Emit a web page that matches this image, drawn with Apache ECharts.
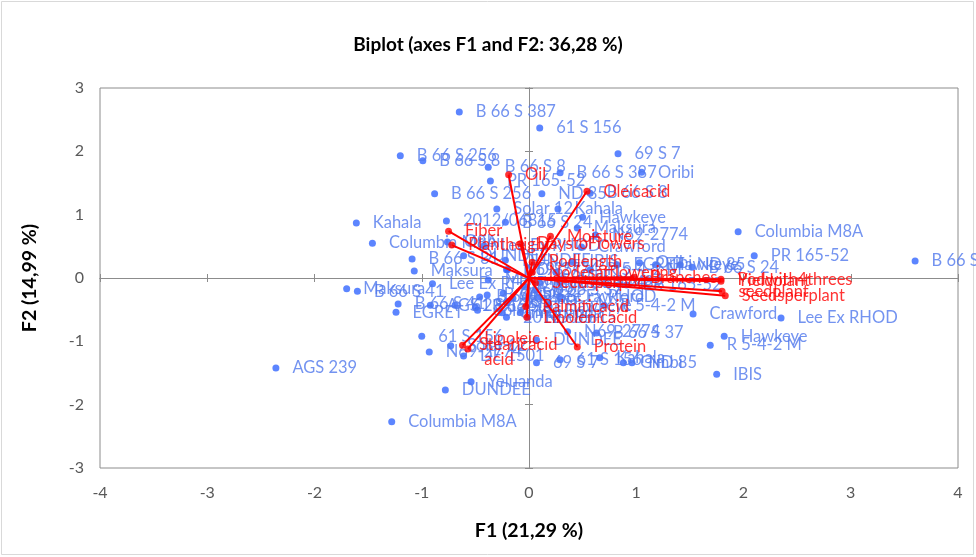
<!DOCTYPE html>
<html>
<head>
<meta charset="utf-8">
<script src="https://cdn.jsdelivr.net/npm/echarts@6.0.0/dist/echarts.min.js"></script>
<style>
  html, body { margin: 0; padding: 0; background: #fff; }
  #chart { width: 976px; height: 557px; }
</style>
</head>
<body>
<div id="chart"></div>
<script>
// observations (F1, F2 scores)
const obsNames = [
  'B 66 S 387', '61 S 156', 'B 66 S 256', 'B 66 S 8', 'B 66 S 8', 'B 66 S 387', 'PR 165-52', 'B 66 S 256',
  'ND 85', 'Solar 12', 'Kahala', 'Hawkeye', 'Kahala', '2012/06815', 'B 66 S 24', 'Maksura',
  '69 S 7', 'Oribi', 'B 66 S 8', 'N69-2774', 'Crawford', 'Columbia M8A', 'PR 165-52', 'B 66 S 31',
  'B 66 S 24', 'EGRET', 'Hawkeye', 'Columbia M8A', 'Oribi', 'B 66 S 31', 'DUNDEE', 'Maksura',
  'ND 85', 'Maksura', 'B 66 S 41', 'Lee Ex RHOD', 'B 66 S 41', 'EGRET', 'AGS 239', '61 S 156',
  'N69-2774', 'Solar 12', 'DE 1501', 'AGS 239', 'Yeluanda', 'DUNDEE', 'Columbia M8A', '69 S 7',
  'DUNDEE', 'N69-2774', 'B 66 S 37', '61 S 156', 'Kahala', 'Gimbi', 'ND 85', 'Crawford',
  'R 5-4-2 M', 'Hawkeye', 'IBIS', 'Lee Ex RHOD', 'R 5-4-2 M', 'PR 165-52', 'B 66 S 256', 'B 66 S 8',
  'Oribi', 'IBIS', 'Solar 12', 'Gimbi', '2012/06815', 'Yeluanda', 'ND 85', 'Kahala',
  'Lee Ex RHOD', 'Hawkeye', 'N69-2774', 'Maksura', 'Oribi', 'Columbia M8A', 'B 66 S 37', 'Crawford',
  'Oribi', 'ND 85', 'IBIS', 'Solar 12', '61 S 156', 'B 66 S 31', 'B 66 S 24', 'R 5-4-2 M',
  'Lee Ex RHOD', 'DUNDEE'
]
const obsF1 = [
  -0.65, 0.10, -1.20, -0.99, -0.38, 0.29, -0.36, -0.88,
  0.12, -0.30, 0.27, 0.50, -1.61, -0.77, -0.22, 0.45,
  0.83, 1.05, 0.57, 0.62, 0.49, 1.95, 2.10, 3.60,
  1.52, 0.82, 1.18, -1.46, -0.76, -1.09, -0.61, -1.07,
  -0.20, -1.70, -1.60, -0.90, -1.22, -1.24, -0.92, -1.00,
  -0.93, -0.73, -0.61, -2.36, -0.54, -0.78, -1.28, 0.07,
  0.07, 0.36, 0.63, 0.29, 0.66, 0.88, 0.96, 1.53,
  1.69, 1.82, 1.75, 2.35, 0.70, 0.91, -0.46, -0.39,
  -0.24, -0.21, -0.48, -0.25, -0.21, -0.08, -0.01, -0.15,
  0.10, 0.18, -0.21, -0.38, -0.04, 0.10, 0.06, 0.29,
  1.03, 1.41, 0.41, 0.25, -0.69, -0.50, 0.29, 0.57,
  -0.42, -0.22
]
const obsF2 = [
  2.62, 2.37, 1.93, 1.85, 1.75, 1.66, 1.53, 1.33,
  1.33, 1.09, 1.09, 0.96, 0.87, 0.90, 0.88, 0.79,
  1.96, 1.67, 1.34, 0.68, 0.49, 0.73, 0.35, 0.27,
  0.17, 0.21, 0.21, 0.55, 0.57, 0.30, 0.35, 0.11,
  0.13, -0.17, -0.21, -0.09, -0.41, -0.54, -0.43, -0.92,
  -1.17, -1.07, -1.23, -1.42, -1.64, -1.77, -2.27, -1.34,
  -0.98, -0.85, -0.87, -1.29, -1.26, -1.34, -1.34, -0.57,
  -1.06, -0.92, -1.52, -0.63, -0.43, -0.11, -0.30, -0.27,
  -0.24, -0.39, -0.51, -0.55, -0.62, -0.54, -0.62, -0.32,
  -0.30, -0.43, 0.13, -0.03, -0.14, -0.08, -0.19, -0.30,
  0.24, 0.21, 0.25, 0.09, -0.43, -0.46, -0.08, 0.13,
  0.51, 0.28
]

// variables (loadings drawn as vectors from the origin)
const varNames = [
  'Oil', 'Oleicacid', 'Fiber', 'Moisture', 'Plantheight', 'DaystoFlowers', 'Podlength',
  'Nodesatflowering', 'Seedsperpod', 'Branches', 'Podwith4threes', 'Yieldplant', 'seedplant',
  'Seedsperplant', 'Palmiticacid', 'Linolenicacid', 'Protein', 'Stearicacid', 'Linoleic\nacid'
]
const varF1 = [
  -0.19, 0.54, -0.75, 0.20, -0.72, -0.08, 0.03,
  0.03, 0.06, 0.98, 1.79, 1.79, 1.80,
  1.83, -0.03, -0.02, 0.45, -0.62, -0.57
]
const varF2 = [
  1.63, 1.37, 0.74, 0.66, 0.52, 0.54, 0.25,
  0.09, -0.08, 0.01, -0.02, -0.05, -0.21,
  -0.28, -0.45, -0.62, -1.09, -1.06, -1.12
]

const FONT = 'Lato'
const chart = echarts.init(document.getElementById('chart'))

const zeroAxis = (dir, inside) => ({
  type: 'value', min: dir === 'x' ? -4 : -3, max: dir === 'x' ? 4 : 3, interval: 1,
  position: dir === 'x' ? 'bottom' : 'left',
  axisLine: { show: true, onZero: true, lineStyle: { color: '#8c8c8c', width: 1 } },
  axisTick: { show: true, inside: inside, length: 4, lineStyle: { color: '#8c8c8c' } },
  axisLabel: { show: false },
  splitLine: { show: false }
})

const option = {
  animation: false,
  backgroundColor: '#fff',
  title: {
    text: 'Biplot (axes F1 and F2: 36,28 %)',
    left: 'center', top: 30,
    textStyle: { fontFamily: FONT, fontSize: 19, fontWeight: 'bold', color: '#000' }
  },
  graphic: [{
    type: 'rect', shape: { x: 1.5, y: 1.5, width: 972, height: 553 },
    style: { fill: 'none', stroke: '#d9d9d9', lineWidth: 1 }, silent: true
  }],
  grid: { left: 100, right: 18, top: 88, bottom: 89, show: true, borderColor: '#8c8c8c', borderWidth: 1, outerBoundsMode: 'none' },
  xAxis: [
    {
      type: 'value', min: -4, max: 4, interval: 1, position: 'bottom',
      axisLine: { show: false }, axisTick: { show: false }, splitLine: { show: false },
      axisLabel: { color: '#595959', fontSize: 16, fontFamily: FONT, margin: 17 },
      name: 'F1 (21,29 %)', nameLocation: 'middle', nameGap: 53,
      nameTextStyle: { fontFamily: FONT, fontSize: 19.5, fontWeight: 'bold', color: '#000' }
    },
    zeroAxis('x', false),
    zeroAxis('x', true)
  ],
  yAxis: [
    {
      type: 'value', min: -3, max: 3, interval: 1, position: 'left',
      axisLine: { show: false }, axisTick: { show: false }, splitLine: { show: false },
      axisLabel: { color: '#595959', fontSize: 16, fontFamily: FONT, margin: 16 },
      name: 'F2 (14,99 %)', nameLocation: 'middle', nameGap: 60,
      nameTextStyle: { fontFamily: FONT, fontSize: 19.5, fontWeight: 'bold', color: '#000' }
    },
    zeroAxis('y', false),
    zeroAxis('y', true)
  ],
  series: [
    {
      type: 'scatter',
      symbolSize: 7,
      itemStyle: { color: '#3366ff' },
      label: {
        show: true, position: 'right', distance: 13, formatter: '{b}',
        color: '#5078ec', fontSize: 16.5, fontFamily: FONT
      },
      data: obsNames.map((n, i) => ({ name: n, value: [obsF1[i], obsF2[i]] })),
      z: 2
    },
    {
      type: 'lines',
      coordinateSystem: 'cartesian2d',
      lineStyle: { color: '#ff0000', width: 2, opacity: 1 },
      data: varNames.map((n, i) => ({ coords: [[0, 0], [varF1[i], varF2[i]]] })),
      z: 3
    },
    {
      type: 'scatter',
      symbolSize: 7,
      itemStyle: { color: '#ff0000' },
      label: {
        show: true, position: 'right', distance: 13, formatter: '{b}',
        color: '#ff0000', fontSize: 16.5, fontFamily: FONT, lineHeight: 21
      },
      data: varNames.map((n, i) => ({ name: n, value: [varF1[i], varF2[i]] })),
      z: 4
    }
  ]
}

chart.setOption(option)
</script>
</body>
</html>
